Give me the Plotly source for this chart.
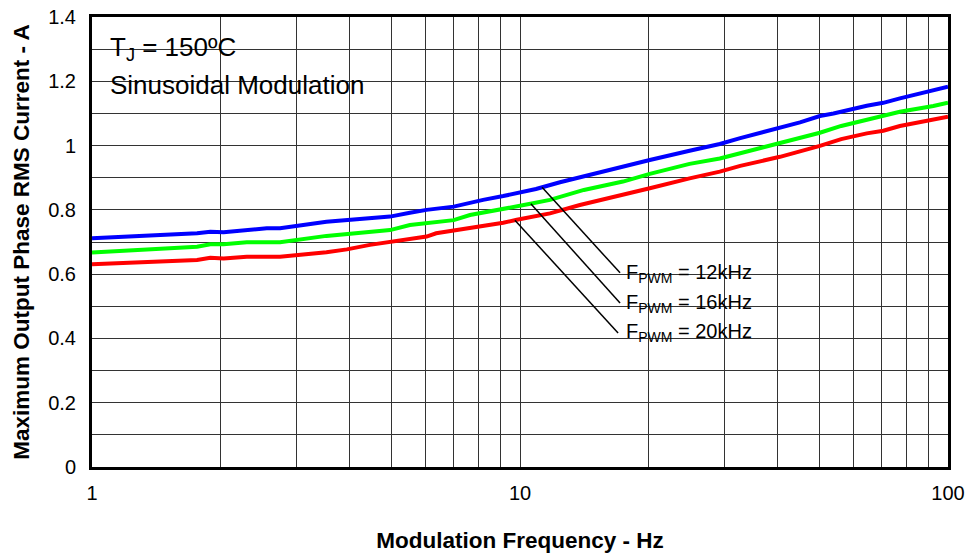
import numpy as np
import plotly.graph_objects as go

# Modulation frequency (Hz) and max output phase RMS current (A) per PWM frequency
freq_12k = [1, 1.76, 1.89, 2.03, 2.56, 2.75, 3.53, 4.46, 4.97, 5.53, 6.05, 7.0, 7.64, 8.2, 9.14, 9.83,
            10.9, 12.4, 14.1, 17.4, 20.1, 24.9, 29.3, 32.7, 40.5, 45.1, 50.2, 54, 64.6, 70.6, 77.2, 92.4, 100]
irms_12k = [0.712, 0.727, 0.732, 0.730, 0.743, 0.743, 0.763, 0.776, 0.779, 0.791, 0.800, 0.810, 0.822, 0.831,
            0.843, 0.852, 0.865, 0.886, 0.905, 0.934, 0.955, 0.984, 1.005, 1.023, 1.054, 1.072, 1.092, 1.100,
            1.124, 1.133, 1.147, 1.173, 1.183]

freq_16k = [1, 1.76, 1.89, 2.03, 2.3, 2.75, 3.53, 4.46, 4.97, 5.53, 7.0, 7.64, 9.14, 10.5, 11.75, 14.1, 17.4,
            20.1, 24.9, 29.3, 32.7, 40.5, 50.2, 56.3, 64.6, 70.6, 77.2, 92.4, 100]
irms_16k = [0.667, 0.685, 0.693, 0.693, 0.699, 0.699, 0.719, 0.732, 0.737, 0.753, 0.768, 0.784, 0.802, 0.818,
            0.831, 0.862, 0.888, 0.912, 0.943, 0.960, 0.976, 1.009, 1.040, 1.061, 1.080, 1.090, 1.105, 1.123,
            1.133]

freq_20k = [1, 1.76, 1.89, 2.03, 2.3, 2.75, 3.53, 3.94, 4.46, 5.34, 6.05, 6.37, 7.64, 9.14, 9.83, 11.75, 13.8,
            17.4, 20.1, 24.9, 29.3, 32.7, 40.5, 50.2, 56.3, 64.6, 70.6, 77.2, 92.4, 100]
irms_20k = [0.631, 0.644, 0.651, 0.649, 0.654, 0.654, 0.668, 0.677, 0.691, 0.706, 0.717, 0.727, 0.743, 0.760,
            0.769, 0.789, 0.815, 0.846, 0.867, 0.898, 0.919, 0.937, 0.965, 0.999, 1.020, 1.038, 1.046, 1.061,
            1.080, 1.090]

series_labels = ["F<sub>PWM</sub> = 12kHz", "F<sub>PWM</sub> = 16kHz", "F<sub>PWM</sub> = 20kHz"]
series_colors = ["#0000FF", "#00FF00", "#FF0000"]

# Callout leaders: frequency where each leader touches its curve, and label anchor point
leader_freq = [11.26, 10.6, 9.73]
label_freq = [17.13, 17.13, 16.95]
label_irms = [0.604, 0.510, 0.417]

# Axis ticks
x_tickvals = [m * 10 ** e for e in range(0, 2) for m in range(1, 10)] + [100]
x_ticktext = [str(v) if v in (1, 10, 100) else "" for v in x_tickvals]
y_tickvals = [round(0.1 * i, 1) for i in range(0, 15)]
y_ticktext = [(("%g" % v) if i % 2 == 0 else "") for i, v in enumerate(y_tickvals)]

FONT = "Liberation Sans, Arial, sans-serif"

fig = go.Figure()

for fx, fy, c in [(freq_12k, irms_12k, series_colors[0]),
                  (freq_16k, irms_16k, series_colors[1]),
                  (freq_20k, irms_20k, series_colors[2])]:
    fig.add_trace(go.Scatter(x=fx, y=fy, mode="lines",
                             line=dict(color=c, width=4), showlegend=False, hoverinfo="skip"))

# Leader lines from each curve to its label
for (fx, fy), lf, tx, ty in zip([(freq_12k, irms_12k), (freq_16k, irms_16k), (freq_20k, irms_20k)],
                                leader_freq, label_freq, label_irms):
    y0 = float(np.interp(np.log10(lf), np.log10(fx), fy))
    fig.add_trace(go.Scatter(x=[lf, tx], y=[y0, ty], mode="lines",
                             line=dict(color="black", width=1.5), showlegend=False, hoverinfo="skip"))

# White panels behind the condition text and the callout labels
fig.add_shape(type="rect", xref="paper", yref="paper", x0=0, x1=0.339, y0=0.816, y1=1,
              fillcolor="white", line_width=0, layer="between")
fig.add_shape(type="rect", xref="paper", yref="paper", x0=0.617, x1=0.798, y0=0.26, y1=0.471,
              fillcolor="white", line_width=0, layer="between")

fig.add_annotation(xref="paper", yref="paper", x=0.019, y=0.929, xanchor="left", yanchor="middle",
                   text="T<sub>J</sub> = 150ºC", showarrow=False, font=dict(size=26, color="black", family=FONT))
fig.add_annotation(xref="paper", yref="paper", x=0.019, y=0.849, xanchor="left", yanchor="middle",
                   text="Sinusoidal Modulation", showarrow=False, font=dict(size=26, color="black", family=FONT))

label_y_paper = [0.431, 0.364, 0.298]
for lbl, yp in zip(series_labels, label_y_paper):
    fig.add_annotation(xref="paper", yref="paper", x=0.622, y=yp, xanchor="left", yanchor="middle",
                       text=lbl, showarrow=False, font=dict(size=20, color="black", family=FONT))

fig.update_xaxes(type="log", range=[0, 2], tickvals=x_tickvals, ticktext=x_ticktext,
                 showgrid=True, gridcolor="#333333", gridwidth=1,
                 ticks="inside", ticklen=5, tickcolor="#333333", mirror="ticks",
                 showline=True, linecolor="black", linewidth=3,
                 tickfont=dict(size=20, color="black", family=FONT), ticklabelstandoff=6,
                 title=dict(text="<b>Modulation Frequency - Hz</b>", standoff=30,
                            font=dict(size=22.5, color="black", family=FONT)),
                 zeroline=False)
fig.update_yaxes(range=[0, 1.4], tickvals=y_tickvals, ticktext=y_ticktext,
                 showgrid=True, gridcolor="#333333", gridwidth=1,
                 ticks="inside", ticklen=5, tickcolor="#333333", mirror="ticks",
                 showline=True, linecolor="black", linewidth=3,
                 tickfont=dict(size=20, color="black", family=FONT), ticklabelstandoff=9,
                 title=dict(text="<b>Maximum Output Phase RMS Current - A</b>", standoff=13,
                            font=dict(size=22.5, color="black", family=FONT)),
                 zeroline=False)

fig.update_layout(width=971, height=558, autosize=False,
                  margin=dict(l=92, r=23, t=17, b=91, autoexpand=False),
                  paper_bgcolor="white", plot_bgcolor="white",
                  font=dict(family=FONT, color="black"))

fig.write_html("out.html")
